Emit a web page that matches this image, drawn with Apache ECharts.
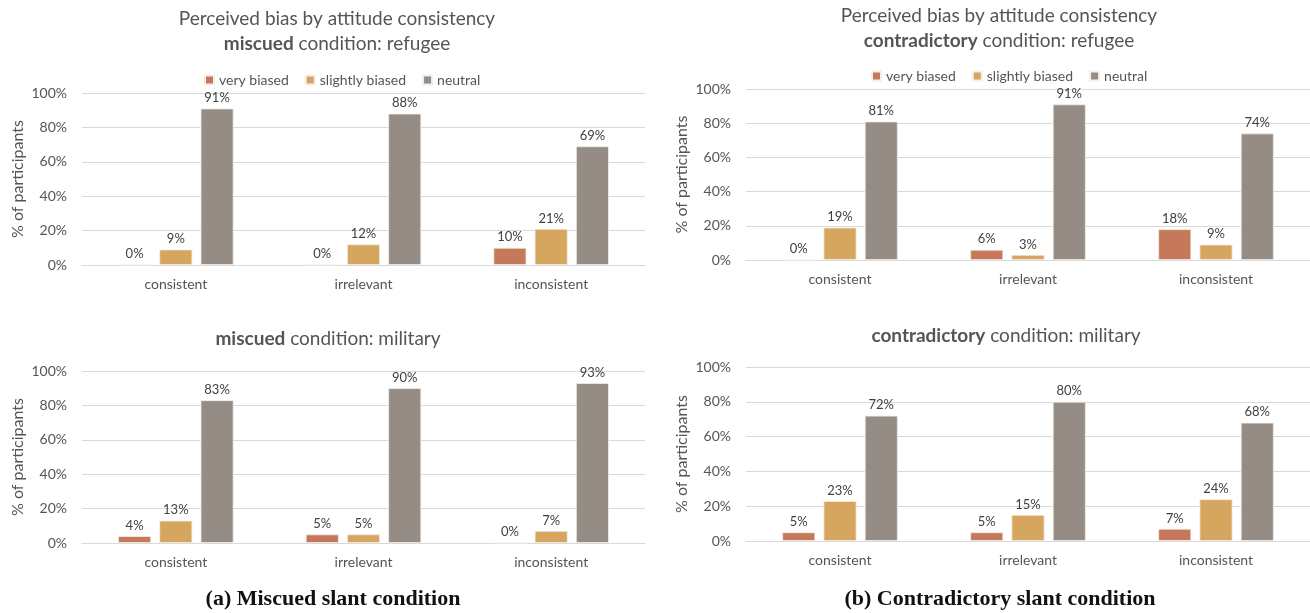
<!DOCTYPE html>
<html>
<head>
<meta charset="utf-8">
<script src="https://cdn.jsdelivr.net/npm/echarts@6/dist/echarts.min.js"></script>
<style>
  html, body { margin: 0; padding: 0; background: #fff; }
  #chart { width: 1310px; height: 613px; }
</style>
</head>
<body>
<div id="chart"></div>
<script>
const categories = ['consistent', 'irrelevant', 'inconsistent'];
const seriesNames = ['very biased', 'slightly biased', 'neutral'];
const yTicks = [0, 20, 40, 60, 80, 100];

// values in % per panel: [very biased, slightly biased, neutral]
const miscuedRefugee = [[0, 0, 10], [9, 12, 21], [91, 88, 69]];
const miscuedMilitary = [[4, 5, 0], [13, 5, 7], [83, 90, 93]];
const contraRefugee = [[0, 6, 18], [19, 3, 9], [81, 91, 74]];
const contraMilitary = [[5, 5, 7], [23, 15, 24], [72, 80, 68]];

const colors = ['#c5795a', '#d6a55e', '#958d85'];
const font = 'Lato, "Noto Sans", sans-serif';
const textColor = '#555555';

const panels = [
  { data: miscuedRefugee, left: 82, width: 563, top: 93, height: 172 },
  { data: miscuedMilitary, left: 82, width: 563, top: 371, height: 172 },
  { data: contraRefugee, left: 746, width: 564, top: 89, height: 171 },
  { data: contraMilitary, left: 746, width: 564, top: 367, height: 174 }
];

const chart = echarts.init(document.getElementById('chart'));

const grid = panels.map(p => ({ left: p.left, top: p.top, width: p.width, height: p.height }));

const xAxis = panels.map((p, i) => ({
  type: 'category',
  gridIndex: i,
  data: categories,
  axisTick: { show: false },
  axisLine: { lineStyle: { color: '#d9d9d9', width: 1 } },
  axisLabel: { color: textColor, fontFamily: font, fontSize: 14, margin: 12 }
}));

const yAxis = panels.map((p, i) => ({
  type: 'value',
  gridIndex: i,
  min: yTicks[0],
  max: yTicks[yTicks.length - 1],
  interval: 20,
  name: '% of participants',
  nameLocation: 'middle',
  nameGap: 56,
  nameTextStyle: { color: textColor, fontFamily: font, fontSize: 16 },
  axisLine: { show: false },
  axisTick: { show: false },
  axisLabel: { color: textColor, fontFamily: font, fontSize: 14, margin: 15, formatter: '{value}%' },
  splitLine: { lineStyle: { color: '#d9d9d9', width: 1 } }
}));

const series = [];
panels.forEach((p, i) => {
  seriesNames.forEach((name, k) => {
    series.push({
      name,
      type: 'bar',
      xAxisIndex: i,
      yAxisIndex: i,
      data: p.data[k],
      barWidth: 33,
      barGap: '25%',
      itemStyle: { color: colors[k], borderColor: '#f3efe9', borderWidth: 0.8 },
      label: {
        show: true,
        position: 'top',
        distance: 4,
        color: '#404040',
        fontFamily: font,
        fontSize: 13,
        formatter: '{c}%'
      }
    });
  });
});

const legendBase = {
  data: seriesNames,
  itemWidth: 9,
  itemHeight: 9,
  itemGap: 16,
  icon: 'rect',
  textStyle: { color: textColor, fontFamily: font, fontSize: 14 }
};

function titleText(x, y, lines) {
  return {
    type: 'text',
    x, y,
    style: {
      text: lines,
      align: 'center',
      verticalAlign: 'middle',
      fill: textColor,
      font: '19px ' + font,
      lineHeight: 25,
      rich: {
        b: { fontWeight: 'bold', fontSize: 19, fontFamily: font, fill: textColor, lineHeight: 25 },
        n: { fontSize: 19, fontFamily: font, fill: textColor, lineHeight: 25 }
      }
    }
  };
}

function caption(x, y, text) {
  return {
    type: 'text',
    x, y,
    style: {
      text,
      align: 'center',
      verticalAlign: 'middle',
      fill: '#111',
      font: 'bold 22px "Liberation Serif", "DejaVu Serif", serif'
    }
  };
}

chart.setOption({
  animation: false,
  color: colors,
  grid,
  xAxis,
  yAxis,
  series,
  legend: [
    Object.assign({}, legendBase, { left: 199, top: 68 }),
    Object.assign({}, legendBase, { left: 866, top: 64 })
  ],
  graphic: [
    titleText(337, 31, '{n|Perceived bias by attitude consistency}\n{b|miscued}{n| condition: refugee}'),
    titleText(328, 339, '{b|miscued}{n| condition: military}'),
    titleText(999, 28, '{n|Perceived bias by attitude consistency}\n{b|contradictory}{n| condition: refugee}'),
    titleText(1006, 336, '{b|contradictory}{n| condition: military}'),
    caption(333, 599, '(a) Miscued slant condition'),
    caption(1000, 599, '(b) Contradictory slant condition')
  ]
});
</script>
</body>
</html>
